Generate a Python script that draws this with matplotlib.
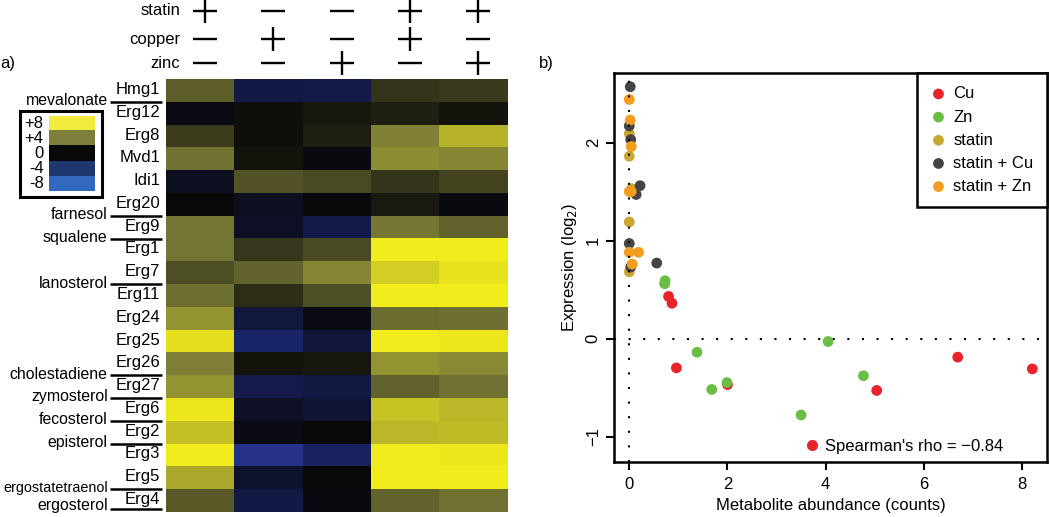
import numpy as np
import matplotlib
matplotlib.use('Agg')
from matplotlib import pyplot as plt
from matplotlib.colors import LinearSegmentedColormap, ListedColormap
from matplotlib.lines import Line2D
from matplotlib.patches import Rectangle

plt.rcParams['font.family'] = ['Liberation Sans', 'DejaVu Sans']
plt.rcParams['font.size'] = 12

# ---- heatmap data (log2 expression) ----
genes = ['Hmg1', 'Erg12', 'Erg8', 'Mvd1', 'Idi1', 'Erg20', 'Erg9', 'Erg1', 'Erg7', 'Erg11',
         'Erg24', 'Erg25', 'Erg26', 'Erg27', 'Erg6', 'Erg2', 'Erg3', 'Erg5', 'Erg4']
expression = [
    [2.9, -2.3, -2.5, 1.5, 1.7],
    [-0.4, 0.2, 0.5, 0.8, 0.4],
    [1.8, 0.2, 0.8, 4.1, 5.9],
    [3.6, 0.4, -0.3, 4.5, 4.3],
    [-1.0, 2.5, 2.2, 1.5, 2.0],
    [0.0, -1.0, -0.1, 0.6, -0.3],
    [3.7, -1.1, -2.5, 3.8, 3.0],
    [3.7, 1.6, 2.2, 8.0, 8.0],
    [2.4, 3.1, 4.3, 6.9, 7.6],
    [3.5, 1.3, 2.4, 8.0, 8.0],
    [4.8, -2.1, -0.4, 3.4, 3.5],
    [7.5, -3.8, -1.9, 8.0, 7.8],
    [4.0, 0.4, 0.5, 4.8, 4.4],
    [4.8, -2.7, -2.2, 3.0, 3.6],
    [7.8, -1.3, -1.7, 6.5, 6.1],
    [6.4, -0.5, 0.0, 6.1, 6.2],
    [8.0, -5.3, -3.4, 8.0, 7.8],
    [5.5, -1.4, 0.0, 8.0, 8.0],
    [2.8, -2.3, -0.3, 3.1, 3.6],
]
treatments = ['statin', 'copper', 'zinc']
design = [
    [1, 0, 0, 1, 1],
    [0, 1, 0, 1, 0],
    [0, 0, 1, 0, 1],
]
# metabolite produced after gene at boundary index
metabolites = ['mevalonate', 'farnesol', 'squalene', 'lanosterol', 'cholestadiene',
               'zymosterol', 'fecosterol', 'episterol', 'ergostatetraenol', 'ergosterol']
metabolite_rows = [1, 6, 7, 9, 13, 14, 15, 16, 18, 19]
key_values = [8, 4, 0, -4, -8]
key_labels = ['+8', '+4', '0', '-4', '-8']

# ---- scatter data ----
cu_x = [0.80, 0.87, 0.96, 2.00, 5.04, 6.69, 8.21]
cu_y = [0.43, 0.36, -0.30, -0.47, -0.53, -0.19, -0.31]
zn_x = [0.73, 0.72, 1.38, 1.68, 1.99, 3.50, 4.05, 4.77]
zn_y = [0.59, 0.56, -0.14, -0.52, -0.45, -0.78, -0.03, -0.38]
statin_x = [0.00, 0.00, 0.05, 0.00, 0.00]
statin_y = [2.09, 1.86, 1.53, 1.19, 0.68]
statin_cu_x = [0.02, 0.00, 0.03, 0.22, 0.14, 0.00, 0.03, 0.56]
statin_cu_y = [2.57, 2.17, 2.03, 1.56, 1.47, 0.97, 0.73, 0.77]
statin_zn_x = [0.00, 0.02, 0.04, 0.00, 0.04, 0.00, 0.19, 0.06]
statin_zn_y = [2.44, 2.23, 1.96, 1.50, 1.50, 0.88, 0.88, 0.76]
rho_text = "Spearman's rho = \u22120.84"

heat_cmap = LinearSegmentedColormap.from_list('byk', [
    (0.00, (55/255, 75/255, 195/255)),
    (0.25, (28/255, 38/255, 110/255)),
    (0.50, (8/255, 8/255, 8/255)),
    (0.75, (125/255, 125/255, 55/255)),
    (1.00, (243/255, 236/255, 28/255)),
])
key_cmap = ListedColormap(['#f0eb3c', '#7d7d3c', '#080808', '#1e376e', '#3269be'])

fig = plt.figure(figsize=(10.5, 5.17), dpi=100)

# ---------------- panel a ----------------
ax = fig.add_axes([0.1578, 0.0097, 0.3252, 0.8369])
ax.imshow(np.array(expression), cmap=heat_cmap, vmin=-8, vmax=8, aspect='auto',
          interpolation='nearest', extent=(0, 5, 19, 0))
ax.set_xlim(0, 5)
ax.set_ylim(19, 0)
ax.axis('off')

for i, g in enumerate(genes):
    ax.text(-0.08, i + 0.45, g, ha='right', va='center')

for name, k in zip(metabolites, metabolite_rows):
    ax.plot([-0.815, -0.05], [min(k, 18.85), min(k, 18.85)], color='black', lw=1.8,
            clip_on=False, solid_capstyle='butt')
    # longest name gets a touch smaller so it stays on the canvas
    fs = 10.4 if len(name) > 14 else 11.4
    ax.text(-0.85, min(k, 18.75) - 0.05, name, ha='right', va='center', fontsize=fs)

sign_y = [-3.0, -1.75, -0.70]
for t, row, sy in zip(treatments, design, sign_y):
    ax.text(0.21, sy, t, ha='right', va='center')
    for j, on in enumerate(row):
        ax.plot(j + 0.575, sy, marker='+' if on else '_', markersize=17,
                markeredgewidth=1.7, color='black', clip_on=False)

# colour key
kax = fig.add_axes([0.0467, 0.6306, 0.0438, 0.1451])
kax.imshow(np.arange(len(key_values)).reshape(-1, 1), cmap=key_cmap, aspect='auto',
           interpolation='nearest', extent=(0, 1, len(key_values), 0))
kax.set_xlim(0, 1)
kax.set_ylim(len(key_values), 0)
kax.axis('off')
for i, lab in enumerate(key_labels):
    kax.text(-0.12, i + 0.5, lab, ha='right', va='center')
fig.patches.append(Rectangle((0.019, 0.619), 0.0779, 0.167, transform=fig.transFigure,
                             fill=False, edgecolor='black', lw=2.2))

fig.text(0.0, 0.877, 'a)', ha='left', va='center')
fig.text(0.513, 0.877, 'b)', ha='left', va='center')

# ---------------- panel b ----------------
bx = fig.add_axes([0.5848, 0.1064, 0.4124, 0.7524])
series = [
    (cu_x, cu_y, '#e8232a', 'Cu'),
    (zn_x, zn_y, '#6abd45', 'Zn'),
    (statin_x, statin_y, '#c8a832', 'statin'),
    (statin_cu_x, statin_cu_y, '#444444', 'statin + Cu'),
    (statin_zn_x, statin_zn_y, '#f39c1f', 'statin + Zn'),
]
for xs, ys, c, lab in series:
    bx.scatter(xs, ys, s=60, color=c, edgecolors='none', label=lab, zorder=2)

bx.axvline(0, color='black', lw=1.5, dashes=(1, 6), zorder=3)
bx.axhline(0, color='black', lw=1.5, dashes=(1, 6), zorder=3)

bx.set_xlim(-0.31, 8.51)
bx.set_ylim(-1.26, 2.71)
bx.set_xticks([0, 2, 4, 6, 8])
bx.set_yticks([-1, 0, 1, 2])
for lab in bx.get_yticklabels():
    lab.set_rotation(90)
    lab.set_va('center')
bx.tick_params(direction='out', length=6, width=1.5, labelsize=12)
bx.tick_params(axis='x', pad=5)
for sp in bx.spines.values():
    sp.set_linewidth(1.8)
bx.set_xlabel('Metabolite abundance (counts)', labelpad=4)
bx.set_ylabel('Expression (log$_2$)', labelpad=5)

leg1 = bx.legend(loc='upper right', borderaxespad=0, fancybox=False, edgecolor='black',
                 handletextpad=0.4, borderpad=0.8, labelspacing=0.49,
                 handlelength=1.0, scatterpoints=1)
leg1.get_frame().set_linewidth(1.8)
leg1.get_frame().set_alpha(1)
bx.add_artist(leg1)
rho_handle = Line2D([], [], marker='o', ls='', color='#e8232a', markersize=8,
                    markeredgewidth=0)
bx.legend(handles=[rho_handle], labels=[rho_text], loc='center right',
          bbox_to_anchor=(0.919, 0.04), frameon=False, borderpad=0,
          handletextpad=0.3, handlelength=1.0)

fig.savefig('out.png', dpi=100)
